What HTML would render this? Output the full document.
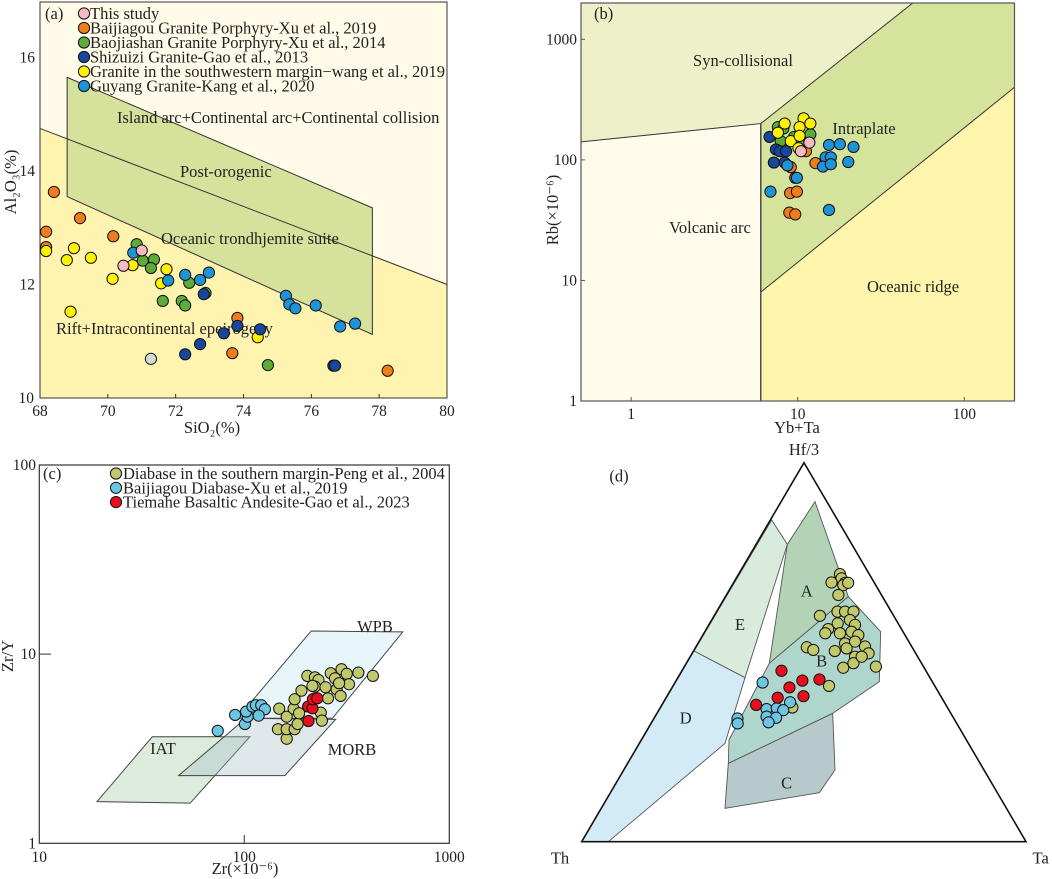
<!DOCTYPE html>
<html><head><meta charset="utf-8"><style>
html,body{margin:0;padding:0;background:#fff}
svg{display:block;font-family:"Liberation Serif",serif}
text{fill:#222}
</style></head><body>
<svg id="fig" width="1052" height="879" viewBox="0 0 1052 879" xmlns="http://www.w3.org/2000/svg">
<g id="pa"></g>
<g id="pb"></g>
<g id="pc"></g>
<g id="pd"></g>
</svg>
<script>
// ---------- DATA ----------
// Panel a: SiO2 vs Al2O3
const aOrangeX=[68.41,68.18,69.18,70.16,68.18,73.82,73.67,78.25];
const aOrangeY=[13.63,12.93,13.17,12.85,12.66,11.41,10.79,10.48];
const aGreenX=[70.85,71.03,71.36,71.27,72.40,71.62,72.18,72.28,72.88,74.72];
const aGreenY=[12.71,12.42,12.44,12.29,12.03,11.71,11.71,11.63,11.85,10.58];
const aGreyX=[71.27];
const aGreyY=[10.69];
const aNavyX=[72.83,72.72,72.28,73.42,73.82,74.49,76.65,76.70];
const aNavyY=[11.83,10.95,10.77,11.14,11.27,11.21,10.57,10.57];
const aYellowX=[68.18,68.79,69.0,69.5,70.14,68.9,70.73,71.73,71.57,74.42];
const aYellowY=[12.59,12.43,12.64,12.47,12.10,11.52,12.34,12.27,12.02,11.07];
const aPinkX=[70.46,71.0];
const aPinkY=[12.33,12.60];
const aBlueX=[70.75,71.78,72.28,72.72,72.98,75.25,75.35,75.53,76.13,76.85,77.29];
const aBlueY=[12.56,12.07,12.17,12.08,12.21,11.80,11.65,11.58,11.63,11.26,11.31];
const aXTicks=[68,70,72,74,76,78,80];
const aYTicks=[10,12,14,16];
const aLegend=["This study","Baijiagou Granite Porphyry-Xu et al., 2019","Baojiashan Granite Porphyry-Xu et al., 2014","Shizuizi Granite-Gao et al., 2013","Granite in the southwestern margin\u2212wang et al., 2019","Guyang Granite-Kang et al., 2020"];
// Panel b: Yb+Ta vs Rb
const bOrangeX=[12.77,9.08,9.66,9.0,9.88,8.9,9.66,11.2];
const bOrangeY=[94,87,71,53,54.5,36.5,35.3,118];
const bGreenX=[7.6,8.2,11.9,7.9,9.5,10.2];
const bGreenY=[187,182,163,143,155,135];
const bNavyX=[6.77,7.4,7.8,8.5,7.19,8.35];
const bNavyY=[155,122,118,118,95,95];
const bYellowX=[8.35,7.6,10.84,11.9,10.26,9.08,10.26,10.1];
const bYellowY=[200,168,221,200,187,143,158,125];
const bPinkX=[11.74,10.45];
const bPinkY=[139,118];
const bBlueX=[15.4,17.9,21.6,14.7,15.8,20.1,14.16,15.8,8.67,9.88,6.86,15.4];
const bBlueY=[133,135,128,105,105,96,88,92,90,71,54.5,38.4];
const bXTicks=[1,10,100];
const bYTicks=[1,10,100,1000];
// Panel c: Zr vs Zr/Y
const cOliveX=[148,161,146,161,161,176,182,174,176,190,185,203,221,230,221,215,249,256,282,264,277,298,316,360,424,324,295,236,239,290];
const cOliveY=[5.15,4.67,4.01,3.57,4.01,4.01,4.27,5.15,5.77,6.41,4.87,7.67,7.54,7.30,6.73,6.79,6.68,5.84,6.52,7.92,7.45,8.32,7.86,7.98,7.67,6.93,6.01,4.91,4.45,7.02];
const cBlueX=[74.2,90.2,100.7,103.8,102,109.6,114,121,126,117.5];
const cBlueY=[3.93,4.77,4.27,4.67,4.97,5.28,5.37,5.37,5.11,4.73];
const cRedX=[205.6,204.8,215,216,227];
const cRedY=[4.43,5.28,5.17,5.77,5.84];
const cXTicks=[10,100,1000];
const cYTicks=[1,10,100];
const cLegend=["Diabase in the southern margin-Peng et al., 2004","Baijiagou Diabase-Xu et al., 2019","Tiemahe Basaltic Andesite-Gao et al., 2023"];
// Panel d: ternary Hf/3 - Th - Ta (fractions of Hf/3 and Ta)
const dOliveHf=[0.706,0.695,0.683,0.684,0.677,0.683,0.651,0.596,0.607,0.607,0.607,0.576,0.585,0.572,0.561,0.550,0.554,0.545,0.550,0.523,0.528,0.515,0.497,0.510,0.488,0.513,0.506,0.503,0.459,0.471,0.462,0.488,0.411,0.354];
const dOliveTa=[0.228,0.237,0.251,0.220,0.250,0.258,0.252,0.238,0.272,0.289,0.308,0.288,0.311,0.329,0.274,0.306,0.330,0.350,0.273,0.331,0.351,0.380,0.397,0.341,0.371,0.250,0.268,0.318,0.359,0.376,0.431,0.386,0.351,0.297];
const dRedHf=[0.451,0.425,0.407,0.428,0.384,0.380,0.361];
const dRedTa=[0.224,0.284,0.264,0.321,0.307,0.251,0.212];
const dBlueHf=[0.420,0.368,0.350,0.352,0.347,0.330,0.327,0.315,0.325,0.312];
const dBlueTa=[0.197,0.285,0.241,0.263,0.280,0.251,0.274,0.263,0.188,0.195];

// ---------- HELPERS ----------
const NS="http://www.w3.org/2000/svg";
const FS=16.5, TS=15.5;
function mk(parent,tag,attrs){const e=document.createElementNS(NS,tag);for(const k in attrs)e.setAttribute(k,attrs[k]);parent.appendChild(e);return e;}
function txt(parent,x,y,s,size,anchor){const t=mk(parent,'text',{x:x,y:y,'font-size':size,'text-anchor':anchor||'start'});t.textContent=s;return t;}
function dot(parent,x,y,fill){return mk(parent,'circle',{cx:x,cy:y,r:5.6,fill:fill,stroke:'#111','stroke-width':1});}
const C={pink:'#f6b8c2',orange:'#ef7d1d',green:'#5cac3a',navy:'#17469a',yellow:'#fff200',blue:'#1f93d8',grey:'#cfdccf',olive:'#c2c86c',lblue:'#6cc6e2',red:'#e6101c'};

// ---------- PANEL A ----------
const pa=document.getElementById('pa');
const xa=v=>40+(v-68)*(407/12);
const ya=v=>398-(v-10)*56.75;
let r=mk(pa,'rect',{x:40,y:2,width:407,height:396,fill:'#fffbe8'});

let p=mk(pa,'polygon',{points:`${xa(68)},${ya(14.75)} ${xa(80)},${ya(12)} ${xa(80)},398 40,398`,fill:'#fff3b0'});

p=mk(pa,'polygon',{points:`${xa(68.8)},${ya(15.65)} ${xa(77.8)},${ya(13.35)} ${xa(77.8)},${ya(11.12)} ${xa(68.8)},${ya(13.55)}`,fill:'#d6e19c',stroke:'#333','stroke-width':1});

p=mk(pa,'line',{x1:xa(68),y1:ya(14.75),x2:xa(80),y2:ya(12),stroke:'#333','stroke-width':1});

mk(pa,'rect',{x:40,y:2,width:407,height:396,fill:'none',stroke:'#333','stroke-width':1});
txt(pa,117,123,'Island arc+Continental arc+Continental collision',FS);
txt(pa,180,177,'Post-orogenic',FS);
txt(pa,161,244,'Oceanic trondhjemite suite',FS);
txt(pa,56,334,'Rift+Intracontinental epeirogeny',FS);
aXTicks.forEach(v=>{mk(pa,'line',{x1:xa(v),y1:398,x2:xa(v),y2:394,stroke:'#333'});txt(pa,xa(v),416,String(v),TS,'middle');});
aYTicks.forEach(v=>{txt(pa,v==10?34:35,ya(v)+5,String(v),TS,'end');});
let t=txt(pa,212,433,'SiO\u2082(%)',FS,'middle');
t=txt(pa,0,0,'Al\u2082O\u2083(%)',FS,'middle');t.setAttribute('transform','translate(16,182) rotate(-90)');
function seriesA(X,Y,col,name){X.forEach((v,i)=>{const c=dot(pa,xa(v),ya(Y[i]),col);});}
seriesA(aOrangeX,aOrangeY,C.orange,'point-baijiagou-granite');
seriesA(aGreenX,aGreenY,C.green,'point-baojiashan');
seriesA(aGreyX,aGreyY,C.grey,'point-grey');
seriesA(aYellowX,aYellowY,C.yellow,'point-sw-margin');
seriesA(aNavyX,aNavyY,C.navy,'point-shizuizi');
seriesA(aBlueX,aBlueY,C.blue,'point-guyang');
seriesA(aPinkX,aPinkY,C.pink,'point-this-study');
txt(pa,45,19,'(a)',FS);
const aLegCols=[C.pink,C.orange,C.green,C.navy,C.yellow,C.blue];
aLegend.forEach((s,i)=>{const y=13.5+i*14.5;const c=dot(pa,84,y,aLegCols[i]);const tt=txt(pa,90,y+5.5,s,FS);});

// ---------- PANEL B ----------
const pb=document.getElementById('pb');
const xb=v=>581+(Math.log10(v)-Math.log10(0.5))*(433.5/Math.log10(400));
const yb=v=>401-Math.log10(v)*(398/Math.log10(2000));
const L=581,R=1014.5,T=3,B=401;
p=mk(pb,'polygon',{points:`${L},${T} ${xb(49)},${T} ${xb(6)},${yb(200)} ${L},${yb(141)}`,fill:'#eef0c9'});

p=mk(pb,'polygon',{points:`${L},${yb(141)} ${xb(6)},${yb(200)} ${xb(6)},${B} ${L},${B}`,fill:'#fffcec'});

p=mk(pb,'polygon',{points:`${xb(6)},${yb(200)} ${xb(49)},${T} ${R},${T} ${R},${yb(400)} ${xb(6)},${yb(8)}`,fill:'#d6e39c'});

p=mk(pb,'polygon',{points:`${xb(6)},${yb(8)} ${R},${yb(400)} ${R},${B} ${xb(6)},${B}`,fill:'#fff5ac'});

mk(pb,'polyline',{points:`${L},${yb(141)} ${xb(6)},${yb(200)} ${xb(49)},${T}`,fill:'none',stroke:'#333','stroke-width':1});
mk(pb,'line',{x1:xb(6),y1:yb(200),x2:xb(6),y2:B,stroke:'#333','stroke-width':1.3});
mk(pb,'line',{x1:xb(6),y1:yb(8),x2:R,y2:yb(400),stroke:'#333','stroke-width':1});
mk(pb,'rect',{x:L,y:T,width:R-L,height:B-T,fill:'none',stroke:'#555','stroke-width':1.2});
bXTicks.forEach(v=>{mk(pb,'line',{x1:xb(v),y1:B,x2:xb(v),y2:B-4,stroke:'#555'});txt(pb,xb(v),419,String(v),TS,'middle');});
bYTicks.forEach(v=>{mk(pb,'line',{x1:L,y1:yb(v),x2:L+4,y2:yb(v),stroke:'#555'});txt(pb,577,yb(v)+5,String(v),TS,'end');});
txt(pb,594,19,'(b)',FS);
txt(pb,743,66,'Syn-collisional',FS,'middle');
txt(pb,864,134,'Intraplate',FS,'middle');
txt(pb,710,233,'Volcanic arc',FS,'middle');
txt(pb,913,292,'Oceanic ridge',FS,'middle');
t=txt(pb,797,433,'Yb+Ta',FS,'middle');
t=txt(pb,0,0,'Rb(\u00d710\u207b\u2076)',FS,'middle');t.setAttribute('transform','translate(558,210) rotate(-90)');
function seriesB(X,Y,col,name){X.forEach((v,i)=>{const c=dot(pb,xb(v),yb(Y[i]),col);});}
seriesB(bOrangeX,bOrangeY,C.orange,'point-baijiagou-granite');
seriesB(bGreenX,bGreenY,C.green,'point-baojiashan');
seriesB(bNavyX,bNavyY,C.navy,'point-shizuizi');
seriesB(bBlueX,bBlueY,C.blue,'point-guyang');
seriesB(bYellowX,bYellowY,C.yellow,'point-sw-margin');
seriesB(bPinkX,bPinkY,C.pink,'point-this-study');

// ---------- PANEL C ----------
const pc=document.getElementById('pc');
const xc=v=>39.3+(Math.log10(v)-1)*205;
const yc=v=>843.3-Math.log10(v)*189.2;
const poly=(g,pts,fill,name)=>{const e=mk(g,'polygon',{points:pts.map(q=>xc(q[0])+','+yc(q[1])).join(' '),fill:fill,stroke:'#444','stroke-width':1});return e;};
poly(pc,[[212,13.25],[593,13.1],[269,4.58],[92.5,4.58]],'rgba(214,236,248,0.55)','wpb-field');
poly(pc,[[19.1,1.66],[35.6,3.66],[106.5,3.66],[54.4,1.63]],'rgba(170,205,170,0.4)','iat-field');
poly(pc,[[47.8,2.28],[101.9,4.58],[279,4.52],[157.7,2.28]],'rgba(160,190,195,0.35)','morb-field');
mk(pc,'rect',{x:39.3,y:465,width:410,height:378.3,fill:'none',stroke:'#333','stroke-width':1.2});
mk(pc,'line',{x1:xc(100),y1:843.3,x2:xc(100),y2:835,stroke:'#333'});
mk(pc,'line',{x1:39.3,y1:yc(10),x2:51,y2:yc(10),stroke:'#333'});
cXTicks.forEach(v=>txt(pc,xc(v),862,String(v),TS,'middle'));
cYTicks.forEach(v=>txt(pc,36,yc(v)+5,String(v),TS,'end'));
txt(pc,375,632,'WPB',FS,'middle');
txt(pc,163,754,'IAT',FS,'middle');
txt(pc,352,755,'MORB',FS,'middle');
txt(pc,43,479,'(c)',FS);
t=txt(pc,245,874,'Zr(\u00d710\u207b\u2076)',FS,'middle');
t=txt(pc,0,0,'Zr/Y',FS,'middle');t.setAttribute('transform','translate(13,656) rotate(-90)');
function seriesC(X,Y,col,name){X.forEach((v,i)=>{const c=dot(pc,xc(v),yc(Y[i]),col);});}
seriesC(cOliveX,cOliveY,C.olive,'point-diabase-southern');
seriesC(cBlueX,cBlueY,C.lblue,'point-baijiagou-diabase');
seriesC(cRedX,cRedY,C.red,'point-tiemahe');
const cLegCols=[C.olive,C.lblue,C.red];
cLegend.forEach((s,i)=>{const y=473.5+i*14.3;const c=dot(pc,116,y,cLegCols[i]);const tt=txt(pc,123,y+5.5,s,FS);});

// ---------- PANEL D ----------
const pd=document.getElementById('pd');
const zx=z=>540+z/3, zy=z=>450+z/3;
const tx=(h,ta)=>581.7+444.3*ta+222.3*h;
const ty=h=>841.7-379*h;
const zpoly=(pts,fill,name)=>{const e=mk(pd,'polygon',{points:pts.map(q=>zx(q[0])+','+zy(q[1])).join(' '),fill:fill,stroke:'#555','stroke-width':0.9});};
zpoly([[695,210],[742,283],[615,683],[462,603]],'#d9ebdc','field-e');
zpoly([[462,603],[615,683],[555,880],[205,1175],[125,1175]],'#d3ebf7','field-d');
zpoly([[825,155],[925,440],[688,640],[742,283]],'#b3d3b7','field-a');
zpoly([[565,940],[878,790],[885,960],[838,1028],[555,1075]],'#b6cacb','field-c');
zpoly([[688,640],[925,440],[1022,545],[1018,695],[878,790],[565,940],[567,870]],'#afd6cc','field-b');
mk(pd,'polygon',{points:`${zx(792)},${zy(38)} ${zx(125)},${zy(1175)} ${zx(1458)},${zy(1175)}`,fill:'none',stroke:'#111','stroke-width':1.6});
txt(pd,zx(800),zy(425)+5,'A',FS,'middle');
txt(pd,zx(845),zy(635)+5,'B',FS,'middle');
txt(pd,zx(740),zy(1000)+5,'C',FS,'middle');
txt(pd,zx(437),zy(805)+5,'D',FS,'middle');
txt(pd,zx(600),zy(525)+5,'E',FS,'middle');
txt(pd,zx(237),zy(80)+5,'(d)',FS,'middle');
txt(pd,zx(792),455,'Hf/3',FS,'middle');
txt(pd,zx(60),zy(1225)+5,'Th',FS,'middle');
txt(pd,zx(1502),zy(1225)+5,'Ta',FS,'middle');
function seriesD(H,TA,col,name){H.forEach((h,i)=>{const c=dot(pd,tx(h,TA[i]),ty(h),col);});}
seriesD(dOliveHf,dOliveTa,C.olive,'point-diabase-southern');
seriesD(dBlueHf,dBlueTa,C.lblue,'point-baijiagou-diabase');
seriesD(dRedHf,dRedTa,C.red,'point-tiemahe');
</script>
</body></html>
